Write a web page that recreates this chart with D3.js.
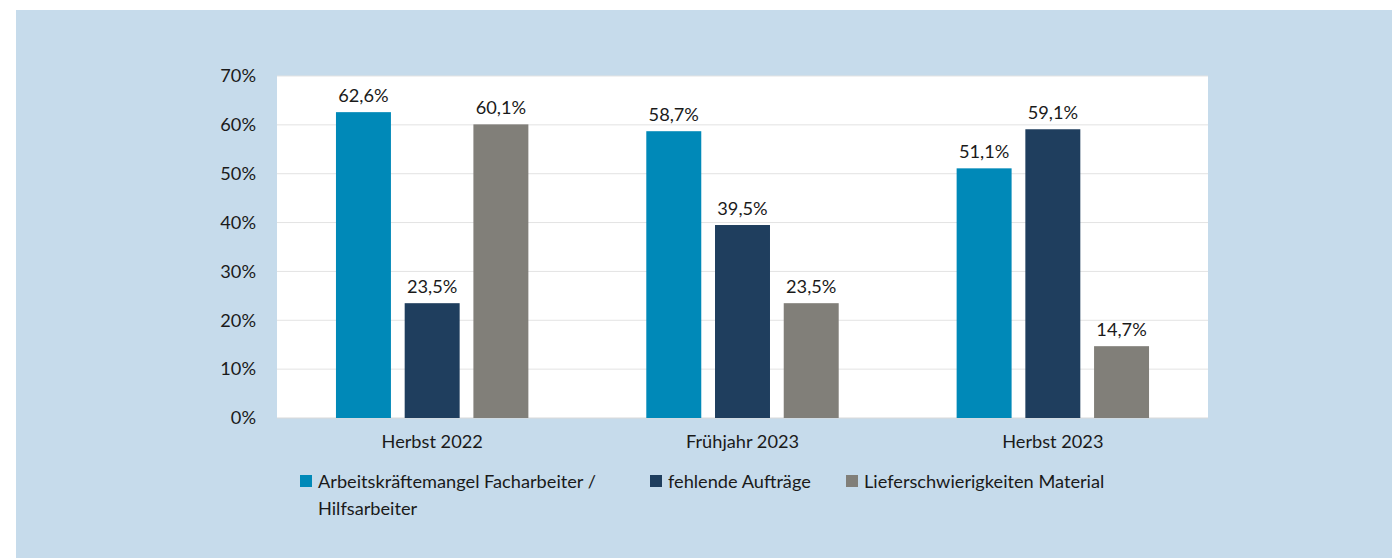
<html>
<head>
<meta charset="utf-8">
<script src="https://cdn.jsdelivr.net/npm/d3@7"></script>
<style>
  body { margin: 0; background: #fff; }
  text { font-family: Lato, "Open Sans", sans-serif; fill: #1a1a1a; }
</style>
</head>
<body>
<div id="chart"></div>
<script>
const categories = ["Herbst 2022", "Frühjahr 2023", "Herbst 2023"];
const seriesNames = ["Arbeitskräftemangel Facharbeiter / Hilfsarbeiter", "fehlende Aufträge", "Lieferschwierigkeiten Material"];
const arbeitskraefte = [62.6, 58.7, 51.1];
const auftraege = [23.5, 39.5, 59.1];
const lieferung = [60.1, 23.5, 14.7];
const yTicks = [0, 10, 20, 30, 40, 50, 60, 70];
const colors = ["#0089b8", "#1f3e5e", "#817f79"];

const series = [arbeitskraefte, auftraege, lieferung];

const W = 1392, H = 558;
const plot = {left: 277, right: 1208, top: 76, bottom: 418};
const fs = 18.2;

const svg = d3.select("#chart").append("svg")
    .attr("width", W).attr("height", H);

svg.append("rect").attr("x", 16).attr("y", 10)
    .attr("width", W - 16).attr("height", H - 10)
    .attr("fill", "#c6dbeb");

svg.append("rect").attr("x", plot.left).attr("y", plot.top)
    .attr("width", plot.right - plot.left).attr("height", plot.bottom - plot.top)
    .attr("fill", "#fff");

const x0 = d3.scaleBand().domain(categories).range([plot.left, plot.right]).paddingInner(0).paddingOuter(0);
const x1 = d3.scaleBand().domain(d3.range(series.length))
    .range([x0.bandwidth() * 0.19, x0.bandwidth() * 0.81]).paddingInner(0.2).paddingOuter(0);
const y = d3.scaleLinear().domain([0, 70]).range([plot.bottom, plot.top]);

// gridlines
svg.append("g").selectAll("line").data(yTicks.slice(1)).join("line")
    .attr("x1", plot.left).attr("x2", plot.right)
    .attr("y1", d => y(d)).attr("y2", d => y(d))
    .attr("stroke", "#e3e3e3").attr("stroke-width", 1);
svg.append("line").attr("x1", plot.left).attr("x2", plot.right)
    .attr("y1", y(0)).attr("y2", y(0)).attr("stroke", "#d9d9d9");

// y axis
const yAxis = svg.append("g").attr("transform", "translate(" + (plot.left - 18) + ",0)")
    .call(d3.axisLeft(y).tickValues(yTicks).tickSize(0).tickFormat(d => d + "%"));
yAxis.select(".domain").remove();
yAxis.selectAll("text").attr("font-size", fs).style("font-family", "Lato, sans-serif").attr("fill", "#1a1a1a");

// x axis labels
const xAxis = svg.append("g").attr("transform", "translate(0," + (plot.bottom + 14) + ")")
    .call(d3.axisBottom(x0).tickSize(0));
xAxis.select(".domain").remove();
xAxis.selectAll("text").attr("font-size", fs).style("font-family", "Lato, sans-serif").attr("fill", "#1a1a1a");

// bars
const rows = categories.map((c, i) => ({cat: c, vals: series.map(s => s[i])}));
const groups = svg.append("g").selectAll("g").data(rows).join("g")
    .attr("transform", d => "translate(" + x0(d.cat) + ",0)");

groups.selectAll("rect").data(d => d.vals.map((v, k) => ({k, v}))).join("rect")
    .attr("x", d => x1(d.k))
    .attr("y", d => y(d.v))
    .attr("width", x1.bandwidth())
    .attr("height", d => y(0) - y(d.v))
    .attr("fill", d => colors[d.k]);

groups.selectAll("text.lbl").data(d => d.vals.map((v, k) => ({k, v}))).join("text")
    .attr("class", "lbl")
    .attr("x", d => x1(d.k) + x1.bandwidth() / 2)
    .attr("y", d => y(d.v) - 10)
    .attr("text-anchor", "middle")
    .attr("font-size", fs)
    .text(d => d3.format(".1f")(d.v).replace(".", ",") + "%");

// legend
const legendX = [300, 650, 846];
const legend = svg.append("g").selectAll("g").data(seriesNames).join("g")
    .attr("transform", (d, i) => "translate(" + legendX[i] + ",475)");
legend.append("rect").attr("width", 12).attr("height", 12).attr("fill", (d, i) => colors[i]);
legend.append("text").attr("x", 18).attr("y", 13).attr("font-size", fs)
    .each(function(d) {
      const parts = d.split(" / ");
      const t = d3.select(this);
      if (parts.length > 1) {
        t.append("tspan").attr("x", 18).attr("y", 13).text(parts[0] + " /");
        t.append("tspan").attr("x", 18).attr("dy", 27).text(parts[1]);
      } else {
        t.text(d);
      }
    });
</script>
</body>
</html>
